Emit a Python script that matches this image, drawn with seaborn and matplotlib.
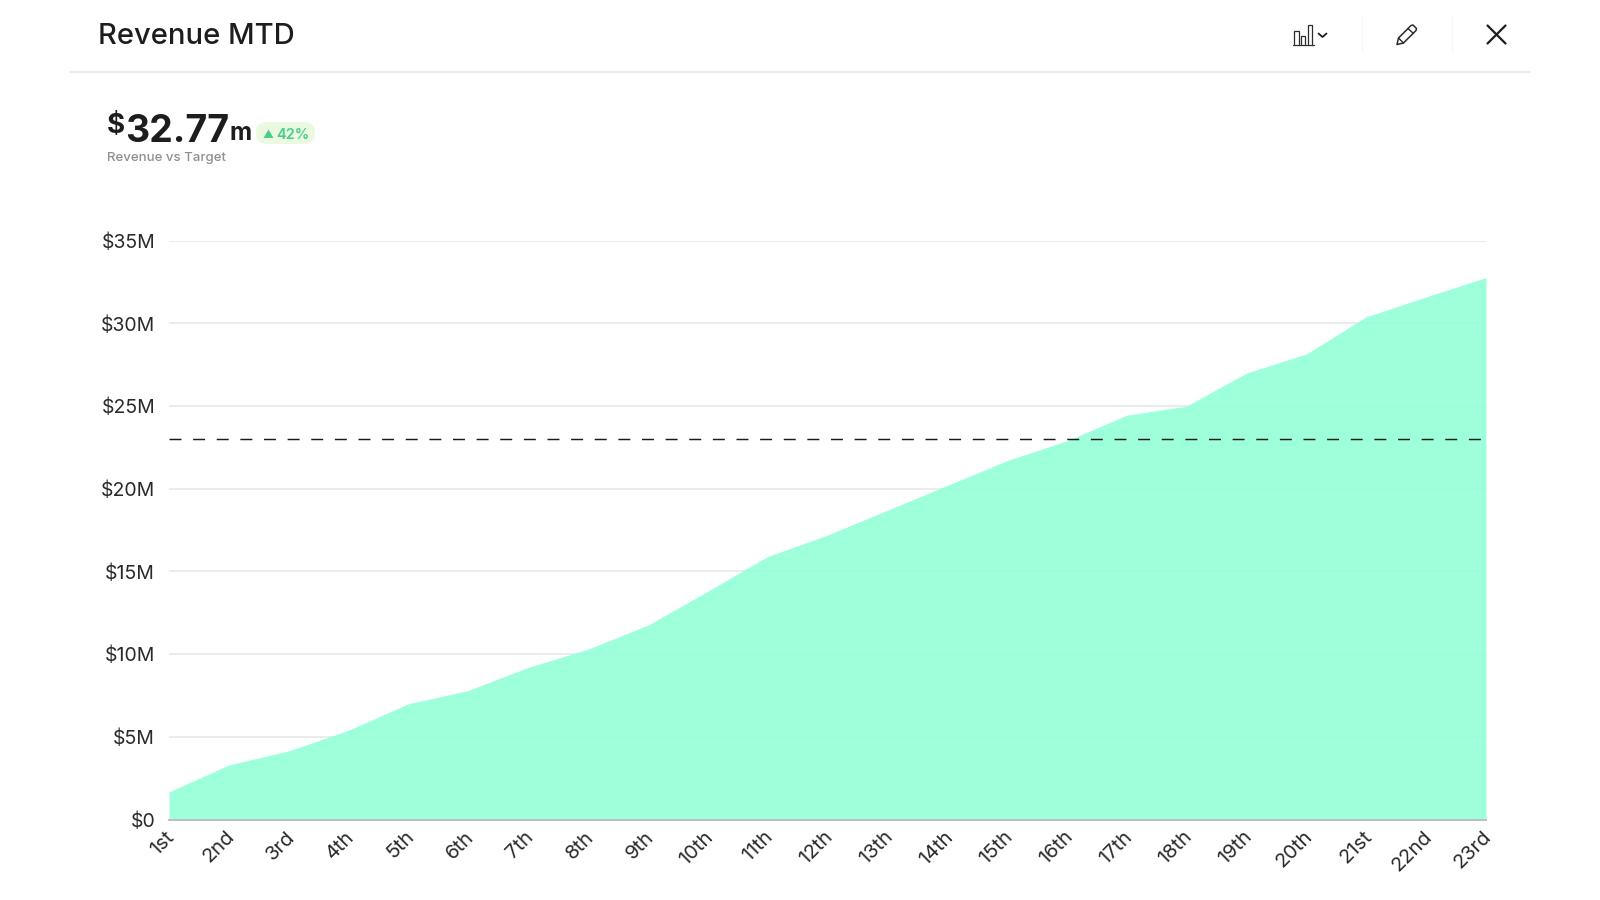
import matplotlib
matplotlib.use("Agg")
import matplotlib.pyplot as plt
from matplotlib.patches import FancyBboxPatch, Polygon
from matplotlib.transforms import ScaledTranslation
import seaborn as sns
import pandas as pd

days = ["1st", "2nd", "3rd", "4th", "5th", "6th", "7th", "8th", "9th", "10th", "11th", "12th",
        "13th", "14th", "15th", "16th", "17th", "18th", "19th", "20th", "21st", "22nd", "23rd"]
revenue = [1.67, 3.3, 4.15, 5.4, 7.0, 7.8, 9.2, 10.3, 11.75, 13.8, 15.9, 17.2,
           18.7, 20.2, 21.7, 22.9, 24.45, 25.0, 27.0, 28.15, 30.4, 31.6, 32.77]
target = 23
y_ticks = [0, 5, 10, 15, 20, 25, 30, 35]
y_labels = ["$0", "$5M", "$10M", "$15M", "$20M", "$25M", "$30M", "$35M"]

AREA = "#97FFD9"
INK = "#1d1d1f"

sns.set_theme(style="white")
plt.rcParams["font.family"] = ["Inter", "DejaVu Sans"]

df = pd.DataFrame({"day": days, "revenue": revenue})

W, H = 1600, 900
fig = plt.figure(figsize=(16, 9), dpi=100, facecolor="white")

# plot area, pixel bounds
left, right, top, bottom = 169, 1486, 240.7, 819.5
ax = fig.add_axes([left / W, 1 - bottom / H, (right - left) / W, (bottom - top) / H])

sns.lineplot(data=df, x="day", y="revenue", ax=ax, color=AREA, linewidth=0, zorder=2)
ax.fill_between(df["day"], df["revenue"], 0, color=AREA, alpha=0.93, linewidth=0, zorder=2)

line = ax.axhline(target, color="#1a1a1a", linewidth=1.05, zorder=3)
line.set_dashes((8.2, 8.0))

ax.set_xlim(0, len(days) - 1)
ax.set_ylim(0, 35)
ax.set_xlabel("")
ax.set_ylabel("")
ax.set_yticks(y_ticks, y_labels)
ax.yaxis.grid(True, color="#e6e6e6", linewidth=1.1, zorder=1)
ax.xaxis.grid(False)
ax.set_axisbelow(True)
sns.despine(ax=ax, left=True, top=True, right=True)
ax.spines["bottom"].set_color("#bdbdbd")
ax.spines["bottom"].set_linewidth(1.4)
ax.spines["bottom"].set_zorder(4)
ax.tick_params(axis="y", length=0, pad=10, labelsize=14, labelcolor="#2a2a2c")
ax.tick_params(axis="x", length=0, pad=6, labelsize=14.5, labelcolor="#2a2a2c")
for lab in ax.get_xticklabels():
    lab.set_rotation(45)
    lab.set_ha("right")
    lab.set_va("top")
    lab.set_rotation_mode("anchor")
    lab.set_transform(lab.get_transform() + ScaledTranslation(-3.5 / 100, 0, fig.dpi_scale_trans))

# header and KPI overlay, in pixels
ov = fig.add_axes([0, 0, 1, 1], facecolor="none")
ov.set_xlim(0, W)
ov.set_ylim(H, 0)
ov.axis("off")

ov.text(98, 34, "Revenue MTD", fontsize=21, fontweight="medium", color=INK, va="center_baseline")
ov.plot([70, 1530], [71.5, 71.5], color="#e4e4e4", lw=1.1)

ov.text(107, 133, "$", fontsize=20, fontweight="bold", color=INK, va="baseline")
ov.text(125.5, 141.5, "32.77", fontsize=27, fontweight="bold", color=INK, va="baseline")
ov.text(229.5, 140.5, "m", fontsize=17.5, fontweight="bold", color=INK, va="baseline")
ov.text(107, 156, "Revenue vs Target", fontsize=9.5, fontweight="medium", color="#8e8e93", va="center_baseline")

ov.add_patch(FancyBboxPatch((256, 122), 59, 22, boxstyle="round,pad=0,rounding_size=11",
                            fc="#EAF9E0", ec="none"))
ov.add_patch(Polygon([(263.5, 138), (273.5, 138), (268.5, 129.5)], fc="#47CF8A", ec="none"))
ov.text(276.5, 133.5, "42%", fontsize=10.5, fontweight="semibold", color="#47CF8A", va="center_baseline")

# toolbar icons
icon = dict(color="#2b2b2d", lw=0.9, solid_joinstyle="miter")
ov.plot([1293, 1314], [44.5, 44.5], **icon)
ov.plot([1294, 1294, 1298.5, 1298.5], [44, 31, 31, 44], **icon)
ov.plot([1300.5, 1300.5, 1305, 1305], [44, 36, 36, 44], **icon)
ov.plot([1307.5, 1307.5, 1312, 1312], [44, 25, 25, 44], **icon)
ov.plot([1318.5, 1322.5, 1326.5], [33.5, 37, 33.5], color=INK, lw=1.3)

ov.plot([1362, 1362], [16, 52], color="#f6f6f6", lw=0.8)
ov.plot([1452, 1452], [16, 52], color="#f6f6f6", lw=0.8)

ov.add_patch(Polygon([(1397, 44.5), (1398.5, 38), (1411, 25.5), (1413, 25), (1416.5, 28.5), (1416, 30.5),
                      (1403.5, 43)], fc="none", ec="#2b2b2d", lw=1.1, joinstyle="round"))
ov.plot([1398.5, 1403.5], [38, 43], color="#2b2b2d", lw=1.0)
ov.plot([1408, 1413.5], [28.5, 33.5], color="#2b2b2d", lw=1.0)

ov.plot([1487.5, 1505.5], [25.5, 43.5], color=INK, lw=1.6)
ov.plot([1487.5, 1505.5], [43.5, 25.5], color=INK, lw=1.6)

fig.savefig("out.png", dpi=100)
